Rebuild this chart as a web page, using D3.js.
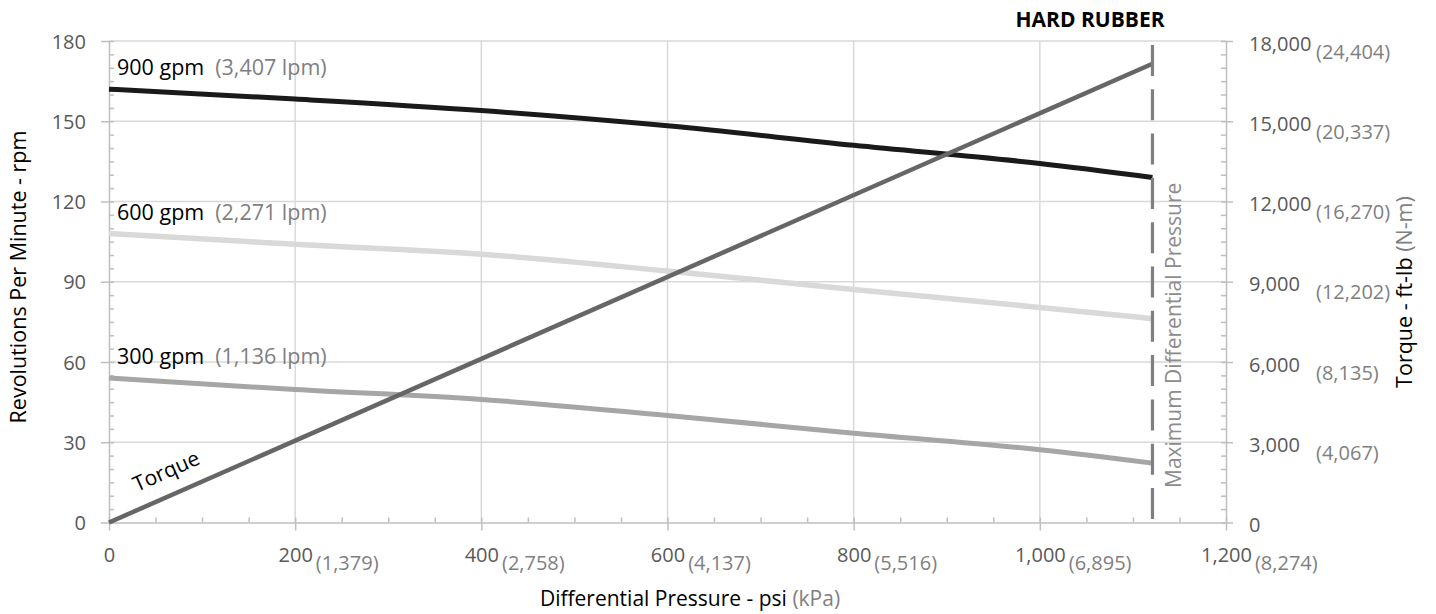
<!DOCTYPE html>
<html>
<head>
<meta charset="utf-8">
<script src="https://cdn.jsdelivr.net/npm/d3@7"></script>
<style>
  body { margin: 0; background: #fff; }
  svg { display: block; font-family: "Open Sans", sans-serif; }
  .axis path, .axis line { stroke: #bfbfbf; stroke-width: 1.5; }
  .axis text { font-size: 20px; fill: #595959; font-family: "Open Sans", sans-serif; }
  .grid { stroke: #d9d9d9; stroke-width: 1.5; }
</style>
</head>
<body>
<svg id="chart" width="1436" height="614"></svg>
<script>
var width = 1436;
var height = 614;

// data
var pressure = [0, 200, 400, 600, 800, 1000, 1121];
var rpm900 = [162, 158.3, 154, 148.3, 141, 134.2, 129];
var rpm600 = [108, 104, 100.3, 94, 87.1, 80.4, 76.2];
var rpm300 = [54, 49.7, 46, 40, 33.4, 27.2, 22.2];
var torquePressure = [0, 1121];
var torque = [0, 17150];
var maxPressure = 1121;

var flowLabels = ["900 gpm", "600 gpm", "300 gpm"];
var lpmLabels = ["(3,407 lpm)", "(2,271 lpm)", "(1,136 lpm)"];

var psiTicks = [0, 200, 400, 600, 800, 1000, 1200];
var kpaLabels = ["", "(1,379)", "(2,758)", "(4,137)", "(5,516)", "(6,895)", "(8,274)"];
var rpmTicks = [0, 30, 60, 90, 120, 150, 180];
var torqueTicks = [0, 3000, 6000, 9000, 12000, 15000, 18000];
var nmLabels = ["", "(4,067)", "(8,135)", "(12,202)", "(16,270)", "(20,337)", "(24,404)"];

var plotL = 109, plotR = 1226, plotT = 41, plotB = 522.5;

var x = d3.scaleLinear().domain([0, 1200]).range([plotL, plotR]);
var yRpm = d3.scaleLinear().domain([0, 180]).range([plotB, plotT]);
var yTq = d3.scaleLinear().domain([0, 18000]).range([plotB, plotT]);

var svg = d3.select("#chart");

// gridlines
svg.append("g").selectAll("line")
  .data(rpmTicks.slice(1))
  .enter().append("line")
  .attr("class", "grid")
  .attr("x1", plotL).attr("x2", plotR)
  .attr("y1", function(d) { return yRpm(d); })
  .attr("y2", function(d) { return yRpm(d); });

svg.append("g").selectAll("line")
  .data(psiTicks.slice(1, -1))
  .enter().append("line")
  .attr("class", "grid")
  .attr("y1", plotT).attr("y2", plotB)
  .attr("x1", function(d) { return x(d); })
  .attr("x2", function(d) { return x(d); });

// left axis
var leftAxis = svg.append("g")
  .attr("class", "axis")
  .attr("transform", "translate(" + plotL + ",0)")
  .call(d3.axisLeft(yRpm).tickValues(rpmTicks).tickSize(8).tickPadding(15).tickSizeOuter(0));
leftAxis.selectAll("text").attr("dy", "0.36em");

svg.append("g")
  .attr("class", "axis")
  .attr("transform", "translate(" + plotL + ",0)")
  .call(d3.axisRight(yRpm).tickValues(d3.range(0, 181, 5)).tickSize(5).tickFormat("").tickSizeOuter(0))
  .select(".domain").remove();

// bottom axis
var bottomAxis = svg.append("g")
  .attr("class", "axis")
  .attr("transform", "translate(0," + plotB + ")")
  .call(d3.axisBottom(x).tickValues(psiTicks).tickSize(8).tickPadding(17).tickSizeOuter(0)
    .tickFormat(d3.format(",")));

svg.append("g")
  .attr("class", "axis")
  .attr("transform", "translate(0," + plotB + ")")
  .call(d3.axisTop(x).tickValues(d3.range(0, 1201, 50)).tickSize(5).tickFormat("").tickSizeOuter(0))
  .select(".domain").remove();

bottomAxis.selectAll(".tick").each(function(d, i) {
  if (!kpaLabels[i]) return;
  var t = d3.select(this).select("text");
  var w = t.node().getComputedTextLength();
  d3.select(this).append("text")
    .attr("x", w / 2 + 3)
    .attr("y", 33)
    .attr("dy", "0.71em")
    .attr("text-anchor", "start")
    .style("fill", "#7f7f7f")
    .text(kpaLabels[i]);
});

// right axis
var rightAxis = svg.append("g")
  .attr("class", "axis")
  .attr("transform", "translate(" + plotR + ",0)")
  .call(d3.axisRight(yTq).tickValues(torqueTicks).tickSize(7).tickPadding(16).tickSizeOuter(0)
    .tickFormat(d3.format(",")));
rightAxis.selectAll("text").attr("dy", "0.45em");

svg.append("g")
  .attr("class", "axis")
  .attr("transform", "translate(" + plotR + ",0)")
  .call(d3.axisLeft(yTq).tickValues(d3.range(0, 18001, 500)).tickSize(5).tickFormat("").tickSizeOuter(0))
  .select(".domain").remove();

rightAxis.selectAll(".tick").each(function(d, i) {
  if (!nmLabels[i]) return;
  var t = d3.select(this).select("text");
  var w = t.node().getComputedTextLength();
  d3.select(this).append("text")
    .attr("x", Math.max(23 + w + 2, 90))
    .attr("y", 0)
    .attr("dy", "0.85em")
    .attr("text-anchor", "start")
    .style("fill", "#7f7f7f")
    .text(nmLabels[i]);
});

// series
var line = d3.line()
  .x(function(d) { return x(d[0]); })
  .y(function(d) { return yRpm(d[1]); })
  .curve(d3.curveMonotoneX);

var series = [
  { values: rpm300, color: "#a6a6a6", w: 5 },
  { values: rpm600, color: "#d9d9d9", w: 5.5 },
  { values: rpm900, color: "#1a1a1a", w: 5 }
];

svg.append("g").selectAll("path")
  .data(series)
  .enter().append("path")
  .attr("fill", "none")
  .attr("stroke", function(d) { return d.color; })
  .attr("stroke-width", function(d) { return d.w; })
  .attr("d", function(d) {
    return line(pressure.map(function(p, i) { return [p, d.values[i]]; }));
  });

svg.append("path")
  .datum(torquePressure.map(function(p, i) { return [p, torque[i]]; }))
  .attr("fill", "none")
  .attr("stroke", "#666666")
  .attr("stroke-width", 4.5)
  .attr("d", d3.line()
    .x(function(d) { return x(d[0]); })
    .y(function(d) { return yTq(d[1]); }));

// maximum differential pressure
svg.append("line")
  .attr("x1", x(maxPressure)).attr("x2", x(maxPressure))
  .attr("y1", yRpm(178.5)).attr("y2", yRpm(1.3))
  .attr("stroke", "#7f7f7f")
  .attr("stroke-width", 3.2)
  .attr("stroke-dasharray", "31,13.3");

svg.append("text")
  .attr("transform", "translate(" + (x(maxPressure) + 29) + "," + 488 + ") rotate(-90)")
  .style("font-size", "21px")
  .style("fill", "#8c8c8c")
  .text("Maximum Differential Pressure");

// series labels
var firstVals = [rpm900[0], rpm600[0], rpm300[0]];
flowLabels.forEach(function(lbl, i) {
  var t = svg.append("text")
    .attr("x", 117)
    .attr("y", yRpm(firstVals[i]) - 14)
    .style("font-size", "21.5px")
    .style("fill", "#000")
    .text(lbl);
  var w = t.node().getComputedTextLength();
  svg.append("text")
    .attr("x", 117 + w + 11)
    .attr("y", yRpm(firstVals[i]) - 14)
    .style("font-size", "21.5px")
    .style("fill", "#7f7f7f")
    .text(lpmLabels[i]);
});

svg.append("text")
  .attr("transform", "translate(137,492) rotate(-24)")
  .style("font-size", "21px")
  .style("fill", "#000")
  .text("Torque");

// titles
svg.append("text")
  .attr("x", 1090).attr("y", 27)
  .attr("text-anchor", "middle")
  .style("font-size", "21px")
  .style("font-weight", "bold")
  .text("HARD RUBBER");

var xt = svg.append("text")
  .attr("x", 690).attr("y", 606)
  .attr("text-anchor", "middle")
  .style("font-size", "21px");
xt.append("tspan").text("Differential Pressure - psi ");
xt.append("tspan").style("fill", "#7f7f7f").text("(kPa)");

svg.append("text")
  .attr("transform", "translate(26,277) rotate(-90)")
  .attr("text-anchor", "middle")
  .style("font-size", "21.5px")
  .text("Revolutions Per Minute - rpm");

var yt = svg.append("text")
  .attr("transform", "translate(1412,292) rotate(-90)")
  .attr("text-anchor", "middle")
  .style("font-size", "21.5px");
yt.append("tspan").text("Torque - ft-lb ");
yt.append("tspan").style("fill", "#7f7f7f").text("(N-m)");
</script>
</body>
</html>
